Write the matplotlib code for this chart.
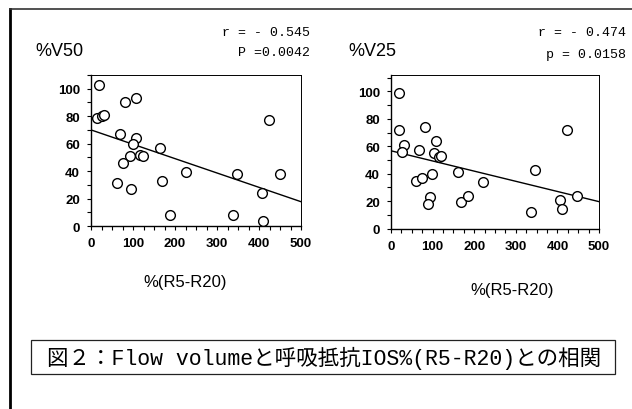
import matplotlib
matplotlib.use("Agg")
import matplotlib.pyplot as plt
from matplotlib.lines import Line2D
from matplotlib.patches import Rectangle
from matplotlib.ticker import MultipleLocator

# %V50 vs %(R5-R20)
v50_x = [20, 15, 25, 32, 82, 108, 69, 106, 101, 164, 93, 117, 123, 76, 62, 95, 170, 225, 187, 338, 348, 408, 409, 423, 449]
v50_y = [103, 79, 80, 81, 90, 93, 67, 64, 60, 57, 51, 52, 51, 46, 31, 27, 33, 39, 8, 8, 38, 24, 4, 77, 38]
v50_fit_x = [0, 500]
v50_fit_y = [70, 17.7]

# %V25 vs %(R5-R20)
v25_x = [19, 19, 31, 26, 82, 67, 107, 104, 116, 121, 160, 60, 74, 99, 93, 90, 168, 184, 222, 336, 346, 407, 410, 423, 448]
v25_y = [99, 72, 61, 56, 74, 57, 64, 55, 52, 53, 41, 35, 37, 40, 23, 18, 19, 24, 34, 12, 43, 21, 14, 72, 24]
v25_fit_x = [0, 500]
v25_fit_y = [56.7, 19.6]

xticks = [0, 100, 200, 300, 400, 500]
yticks = [0, 20, 40, 60, 80, 100]

fig = plt.figure(figsize=(6.32, 4.10), dpi=100)
W, H = 632, 410


def fx(px):
    return px / W


def fy(py):
    return 1 - py / H


def scatter_panel(rect, xs, ys, fit_x, fit_y, ytop):
    ax = fig.add_axes(rect)
    ax.plot(xs, ys, "o", mfc="white", mec="black", ms=7, mew=1.0, zorder=3)
    ax.plot(fit_x, fit_y, color="black", lw=1.0)
    ax.set_xlim(0, 500)
    ax.set_ylim(0, ytop)
    ax.set_xticks(xticks)
    ax.set_yticks(yticks)
    ax.xaxis.set_minor_locator(MultipleLocator(25))
    ax.yaxis.set_minor_locator(MultipleLocator(10))
    ax.tick_params(which="both", direction="out", length=3, width=0.8)
    ax.tick_params(labelsize=9.5, pad=5)
    for lab in ax.get_xticklabels() + ax.get_yticklabels():
        lab.set_fontweight("bold")
        lab.set_family("Liberation Sans")
    for s in ["top", "right"]:
        ax.spines[s].set_linewidth(0.7)
    for s in ["left", "bottom"]:
        ax.spines[s].set_linewidth(1.0)
    return ax


scatter_panel([fx(91), fy(227), fx(210), (227 - 76) / H], v50_x, v50_y, v50_fit_x, v50_fit_y, 110)
scatter_panel([fx(391), fy(229.5), fx(208), (229.5 - 76) / H], v25_x, v25_y, v25_fit_x, v25_fit_y, 112)

sans = "Liberation Sans"
mono = ["Liberation Mono", "DejaVu Sans Mono"]

fig.text(fx(35), fy(52), "%V50", fontsize=13, family=sans, va="center", ha="left")
fig.text(fx(348), fy(52), "%V25", fontsize=13, family=sans, va="center", ha="left")

fig.text(fx(310), fy(33), "r = - 0.545", fontsize=9.5, family=mono, va="center", ha="right")
fig.text(fx(310), fy(53), "P =0.0042", fontsize=9.5, family=mono, va="center", ha="right")
fig.text(fx(626), fy(33), "r = - 0.474", fontsize=9.5, family=mono, va="center", ha="right")
fig.text(fx(626), fy(55), "p = 0.0158", fontsize=9.5, family=mono, va="center", ha="right")

fig.text(fx(185), fy(283), "%(R5-R20)", fontsize=12, family=sans, va="center", ha="center")
fig.text(fx(512), fy(291), "%(R5-R20)", fontsize=12, family=sans, va="center", ha="center")

# caption box
fig.patches.append(Rectangle((fx(31), fy(375)), fx(584), (375 - 341) / H,
                             transform=fig.transFigure, fill=False, ec="#222222", lw=0.9))
fig.text(fx(324), fy(358), "図２：Flow volumeと呼吸抵抗IOS%(R5-R20)との相関",
         fontsize=15.5, family=["Liberation Mono", "Noto Sans CJK JP"], va="center", ha="center")

# page border lines
fig.add_artist(Line2D([fx(10.5), fx(10.5)], [fy(10), 0], color="black", lw=2.0))
fig.add_artist(Line2D([fx(10.5), 1], [fy(10), fy(10)], color="#333333", lw=1.2))

fig.savefig("out.png", dpi=100)
